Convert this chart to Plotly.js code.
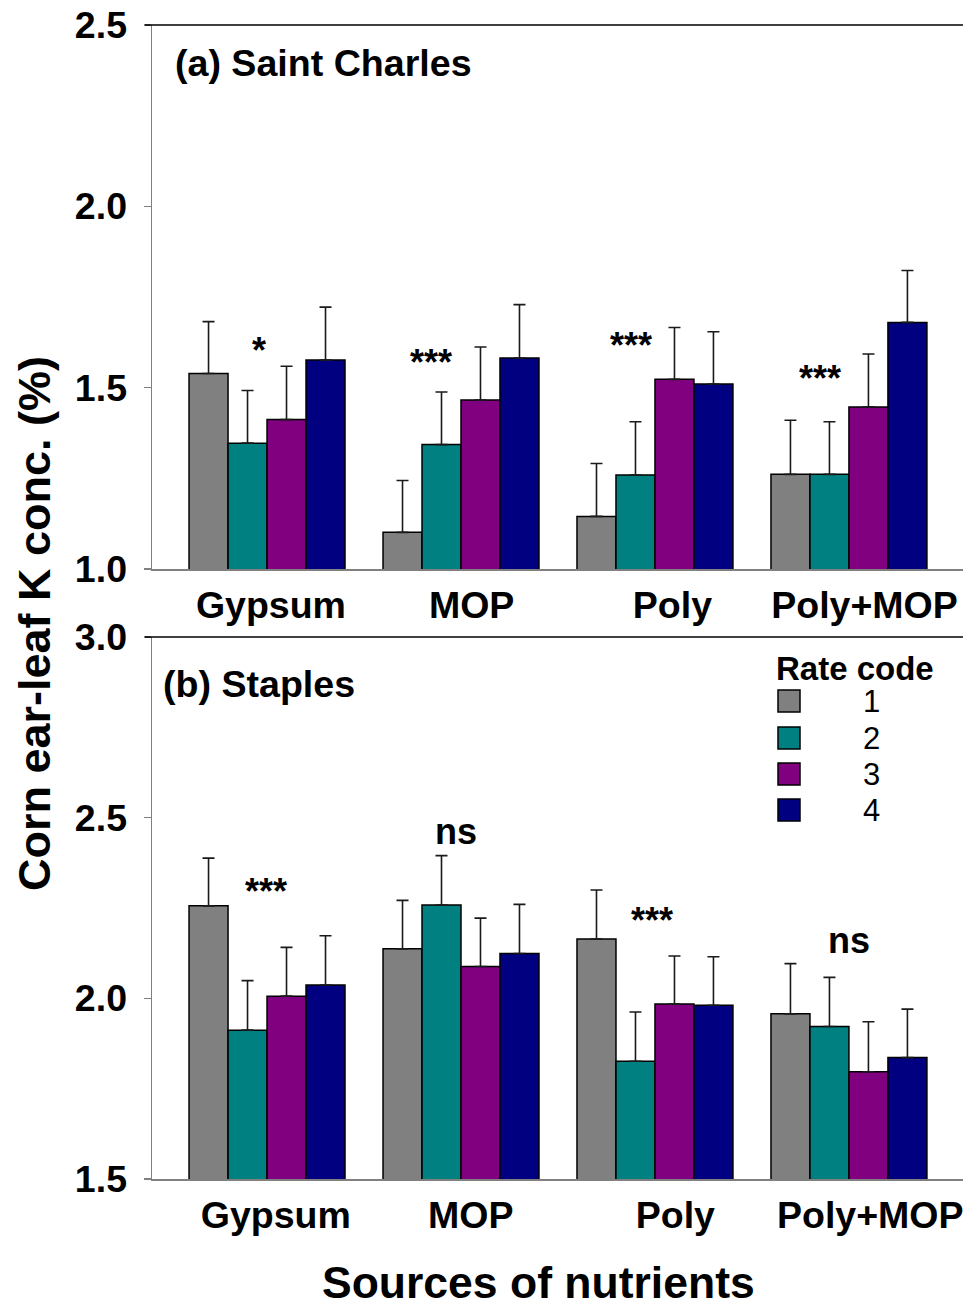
<!DOCTYPE html>
<html>
<head>
<meta charset="utf-8">
<script src="https://cdn.plot.ly/plotly-3.0.1.min.js"></script>
<style>html,body{margin:0;padding:0;background:#fff;}#chart{width:963px;height:1306px;}</style>
</head>
<body>
<div id="chart"></div>
<script>
// ---- data ----
const sources = ["Gypsum", "MOP", "Poly", "Poly+MOP"];
const rateCodes = ["1", "2", "3", "4"];
const rateColors = ["#808080", "#008080", "#800080", "#000080"];

// (a) Saint Charles, means by rate code (rows) across sources (columns)
const stCharles = [
  [1.539, 1.101, 1.145, 1.261],
  [1.347, 1.343, 1.259, 1.261],
  [1.412, 1.466, 1.523, 1.447],
  [1.576, 1.582, 1.510, 1.680]
];
const stCharlesErr = [
  [0.143, 0.143, 0.146, 0.149],
  [0.145, 0.145, 0.147, 0.145],
  [0.147, 0.146, 0.143, 0.146],
  [0.146, 0.147, 0.144, 0.143]
];
// (b) Staples
const staples = [
  [2.256, 2.137, 2.164, 1.957],
  [1.912, 2.258, 1.826, 1.922],
  [2.006, 2.088, 1.984, 1.797],
  [2.037, 2.124, 1.981, 1.836]
];
const staplesErr = [
  [0.132, 0.134, 0.136, 0.139],
  [0.137, 0.137, 0.136, 0.136],
  [0.135, 0.134, 0.133, 0.138],
  [0.136, 0.136, 0.134, 0.134]
];
const sigA = ["*", "***", "***", "***"];
const sigB = ["***", "ns", "***", "ns"];
// significance label placement (offset from category centre, y value)
const sigAPos = [[-0.04, 1.603], [-0.154, 1.570], [-0.123, 1.615], [-0.149, 1.524]];
const sigBPos = [[-0.005, 2.297], [-0.025, 2.462], [-0.015, 2.215], [0.0, 2.159]];

const yTicksA = [1.0, 1.5, 2.0, 2.5];
const yTicksB = [1.5, 2.0, 2.5, 3.0];
// tick label nudges (visual label placement under each group)
const labelShiftA = [0.02, 0.055, 0.09, 0.08];
const labelShiftB = [0.045, 0.05, 0.105, 0.11];

// ---- build ----
const FONT = "Arial, 'Liberation Sans', sans-serif";
const xIdx = sources.map((_, i) => i);
const traces = [];
function addPanel(vals, errs, xa, ya) {
  rateCodes.forEach((rc, r) => {
    traces.push({
      type: "bar",
      name: rc,
      x: xIdx,
      y: vals[r],
      xaxis: xa, yaxis: ya,
      base: 0,
      marker: {color: rateColors[r], line: {color: "#000000", width: 1.5}},
      error_y: {type: "data", symmetric: false, array: errs[r], arrayminus: errs[r].map(() => 0),
                color: "#1a1a1a", thickness: 1.6, width: 6},
      showlegend: false,
      hoverinfo: "skip"
    });
  });
}
addPanel(stCharles, stCharlesErr, "x", "y");
addPanel(staples, staplesErr, "x2", "y2");

const xRange = [-0.593, 3.588];
const tickFont = {family: FONT, size: 37.5, color: "#000", weight: "bold"};
function xAxis(anchor, shift) {
  return {
    domain: [0, 1], anchor: anchor, range: xRange,
    tickmode: "array", tickvals: xIdx.map(i => i + shift[i]), ticktext: sources,
    ticks: "", showline: true, linecolor: "#808080", linewidth: 1.5,
    showgrid: false, zeroline: false, tickfont: tickFont, ticklabelstandoff: 2,
    ticklabeloverflow: "allow"
  };
}
function yAxis(anchor, dom, rng, tv) {
  return {
    domain: dom, anchor: anchor, range: rng,
    tickmode: "array", tickvals: tv, ticktext: tv.map(v => v.toFixed(1)),
    ticks: "outside", ticklen: 7, tickwidth: 1.5, tickcolor: "#808080",
    showline: true, linecolor: "#808080", linewidth: 1.5,
    showgrid: false, zeroline: false, tickfont: tickFont, ticklabelstandoff: 9
  };
}

const annotations = [];
const boldF = (s) => ({family: FONT, size: s, color: "#000", weight: "bold"});
sigA.forEach((s, i) => annotations.push({xref: "x", yref: "y", x: i + sigAPos[i][0], y: sigAPos[i][1],
  xanchor: "center", yanchor: "middle", text: s, showarrow: false, font: boldF(36)}));
sigB.forEach((s, i) => annotations.push({xref: "x2", yref: "y2", x: i + sigBPos[i][0], y: sigBPos[i][1],
  xanchor: "center", yanchor: "middle", text: s, showarrow: false, font: boldF(36)}));
annotations.push({xref: "x domain", yref: "y domain", x: 21 / 811, y: 0.93, xanchor: "left", yanchor: "middle",
  text: "(a) Saint Charles", showarrow: false, font: boldF(37.6)});
annotations.push({xref: "x2 domain", yref: "y2 domain", x: 9 / 811, y: 0.913, xanchor: "left", yanchor: "middle",
  text: "(b) Staples", showarrow: false, font: boldF(37.6)});
annotations.push({xref: "paper", yref: "paper", x: (538 - 152) / 811, y: (1179 - 1282) / 1154, xanchor: "center", yanchor: "middle",
  text: "Sources of nutrients", showarrow: false, font: boldF(44.5)});
annotations.push({xref: "paper", yref: "paper", x: (34 - 152) / 811, y: (1179 - 624) / 1154, xanchor: "center", yanchor: "middle",
  textangle: -90, text: "Corn ear-leaf K conc. (%)", showarrow: false, font: boldF(45)});

// legend (manual, in panel b domain coords)
const shapes = [];
const legY = [701, 738, 774, 810];
annotations.push({xref: "x2 domain", yref: "y2 domain", x: (855 - 152) / 811, y: (1179 - 668) / 542,
  xanchor: "center", yanchor: "middle", text: "Rate code", showarrow: false, font: boldF(33)});
rateCodes.forEach((rc, r) => {
  const yc = (1179 - legY[r]) / 542;
  shapes.push({type: "rect", xref: "x2 domain", yref: "y2 domain",
    x0: (778 - 152) / 811, x1: (800 - 152) / 811, y0: yc - 11 / 542, y1: yc + 11 / 542,
    fillcolor: rateColors[r], line: {color: "#000", width: 1.5}});
  annotations.push({xref: "x2 domain", yref: "y2 domain", x: (871 - 152) / 811, y: yc,
    xanchor: "center", yanchor: "middle", text: rc, showarrow: false, font: {family: FONT, size: 31, color: "#000"}});
});
// top frame lines (extend slightly left like the tick marks)
shapes.push({type: "line", xref: "x domain", yref: "y domain", x0: -7 / 811, x1: 1, y0: 1, y1: 1, line: {color: "#000", width: 1.5}});
shapes.push({type: "line", xref: "x2 domain", yref: "y2 domain", x0: -7 / 811, x1: 1, y0: 1, y1: 1, line: {color: "#000", width: 1.5}});

const layout = {
  width: 963, height: 1306,
  margin: {l: 152, r: 0, t: 25, b: 127},
  paper_bgcolor: "#fff", plot_bgcolor: "#fff",
  barmode: "group", bargap: 0.196, bargroupgap: 0,
  showlegend: false,
  xaxis: xAxis("y", labelShiftA),
  yaxis: yAxis("x", [(1179 - 569) / 1154, 1], [1.0, 2.5], yTicksA),
  xaxis2: xAxis("y2", labelShiftB),
  yaxis2: yAxis("x2", [0, (1179 - 637) / 1154], [1.5, 3.0], yTicksB),
  annotations: annotations,
  shapes: shapes,
  font: {family: FONT, color: "#000"}
};
Plotly.newPlot("chart", traces, layout, {displayModeBar: false, staticPlot: true});
</script>
</body>
</html>
